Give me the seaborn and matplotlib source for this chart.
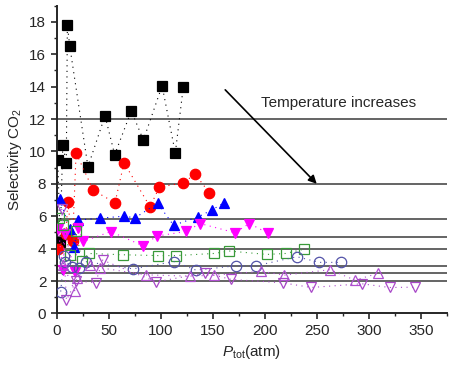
import numpy as np
import pandas as pd
import seaborn as sns
import matplotlib
matplotlib.use("Agg")
import matplotlib.pyplot as plt
from matplotlib.ticker import MultipleLocator

# Data (x = total pressure in atm, y = CO2 selectivity)
sq_x = [1.0, 3.2, 5.8, 9.2, 10.2, 12.5, 30.0, 46.4, 55.7, 71.7, 83.3, 101.3, 114.0, 121.7]
sq_y = [9.5, 4.4, 10.4, 9.3, 17.8, 16.5, 9.05, 12.2, 9.8, 12.5, 10.7, 14.05, 9.9, 14.0]

circ_x = [1.3, 9.0, 10.5, 15.2, 18.6, 35.2, 56.0, 64.7, 89.7, 98.7, 121.7, 133.0, 146.7]
circ_y = [4.0, 4.9, 6.9, 4.45, 9.9, 7.6, 6.83, 9.3, 6.58, 7.8, 8.06, 8.6, 7.45]

up_x = [3.0, 12.8, 16.9, 20.8, 41.6, 64.7, 75.3, 97.0, 112.3, 136.0, 149.0, 161.0]
up_y = [7.04, 5.18, 4.11, 5.76, 5.88, 6.0, 5.9, 6.8, 5.44, 5.96, 6.38, 6.83]

down_x = [1.6, 5.8, 8.0, 17.6, 20.8, 25.6, 52.0, 83.0, 96.0, 124.3, 137.8, 171.4, 185.2, 203.5]
down_y = [5.18, 2.67, 4.9, 2.55, 5.25, 4.45, 5.05, 4.17, 4.77, 5.06, 5.55, 4.98, 5.55, 4.94]

osq_x = [2.2, 6.4, 12.8, 18.3, 24.3, 31.0, 64.0, 97.0, 115.0, 151.0, 166.0, 202.0, 220.0, 238.0]
osq_y = [5.88, 5.45, 3.58, 5.06, 3.25, 3.7, 3.62, 3.57, 3.57, 3.7, 3.85, 3.64, 3.7, 3.97]

ocirc_x = [3.8, 7.0, 8.0, 15.0, 21.7, 28.5, 73.3, 112.9, 134.0, 172.4, 191.6, 230.8, 252.5, 273.0]
ocirc_y = [1.35, 3.54, 3.19, 2.88, 2.78, 3.19, 2.75, 3.2, 2.67, 2.94, 2.94, 3.5, 3.15, 3.15]

oup_x = [6.0, 17.3, 19.2, 32.0, 41.6, 85.5, 128.2, 151.5, 196.6, 218.8, 262.8, 286.8, 309.2]
oup_y = [3.0, 1.4, 2.16, 2.98, 2.82, 2.38, 2.3, 2.36, 2.6, 2.36, 2.7, 2.05, 2.48]

odown_x = [4.8, 9.3, 18.6, 37.5, 44.0, 95.8, 142.6, 167.6, 217.3, 244.7, 293.3, 320.0, 344.2]
odown_y = [6.45, 0.82, 2.0, 1.9, 3.29, 1.95, 2.5, 2.1, 1.89, 1.6, 1.83, 1.6, 1.62]

hlines_y = [12, 8, 5.8, 4.7, 4.0, 2.9, 2.5, 2.0]

sns.set_style("ticks")
plt.rcParams["font.family"] = ["Liberation Sans", "DejaVu Sans"]
plt.rcParams["mathtext.fontset"] = "custom"
plt.rcParams["mathtext.rm"] = "Liberation Sans"
plt.rcParams["mathtext.it"] = "Liberation Sans:italic"

fig = plt.figure(figsize=(4.54, 3.74), dpi=100)
ax = fig.add_axes([0.125, 0.162, 0.859, 0.823])

for y in hlines_y:
    ax.axhline(y, color="#3a3a3a", lw=1.1, zorder=1)

series = [
    (sq_x, sq_y, "s", "black", True, 6.5),
    (circ_x, circ_y, "o", "#ff0000", True, 7.5),
    (up_x, up_y, "^", "#0000ff", True, 7.5),
    (down_x, down_y, "v", "#ff00ff", True, 7.5),
    (osq_x, osq_y, "s", "#3a9a3a", False, 6.5),
    (ocirc_x, ocirc_y, "o", "#5252a8", False, 7.5),
    (oup_x, oup_y, "^", "#b050d0", False, 7.5),
    (odown_x, odown_y, "v", "#a848c8", False, 7.5),
]

for xs, ys, mk, col, filled, ms in series:
    df = pd.DataFrame({"x": xs, "y": ys})
    sns.lineplot(data=df, x="x", y="y", ax=ax, color=col, linestyle=(0, (1, 4)),
                 lw=0.8, marker=mk, markersize=ms,
                 markerfacecolor=col if filled else "none",
                 markeredgecolor=col, markeredgewidth=0.9, zorder=3)

ax.annotate("", xy=(250, 8.0), xytext=(162, 13.8),
            arrowprops=dict(arrowstyle="-|>", color="black", lw=1.2,
                            mutation_scale=12, shrinkA=0, shrinkB=0))
ax.text(196, 13.0, "Temperature increases", fontsize=11, va="center", ha="left")

ax.set_xlim(0, 375)
ax.set_ylim(0, 19)
ax.xaxis.set_major_locator(MultipleLocator(50))
ax.xaxis.set_minor_locator(MultipleLocator(25))
ax.yaxis.set_major_locator(MultipleLocator(2))
ax.yaxis.set_minor_locator(MultipleLocator(1))
ax.set_xticks(range(0, 351, 50))
ax.set_yticks(range(0, 19, 2))
ax.tick_params(which="major", direction="out", length=4, width=1.2, labelsize=11)
ax.tick_params(which="minor", direction="out", length=2.5, width=1.0)
for s in ["left", "bottom"]:
    ax.spines[s].set_linewidth(1.4)
sns.despine(ax=ax)

ax.set_xlabel(r"$\mathit{P}_{\mathrm{tot}}$(atm)", fontsize=11)
ax.set_ylabel(r"Selectivity CO$_2$", fontsize=11)

fig.savefig("out.png", dpi=100)
